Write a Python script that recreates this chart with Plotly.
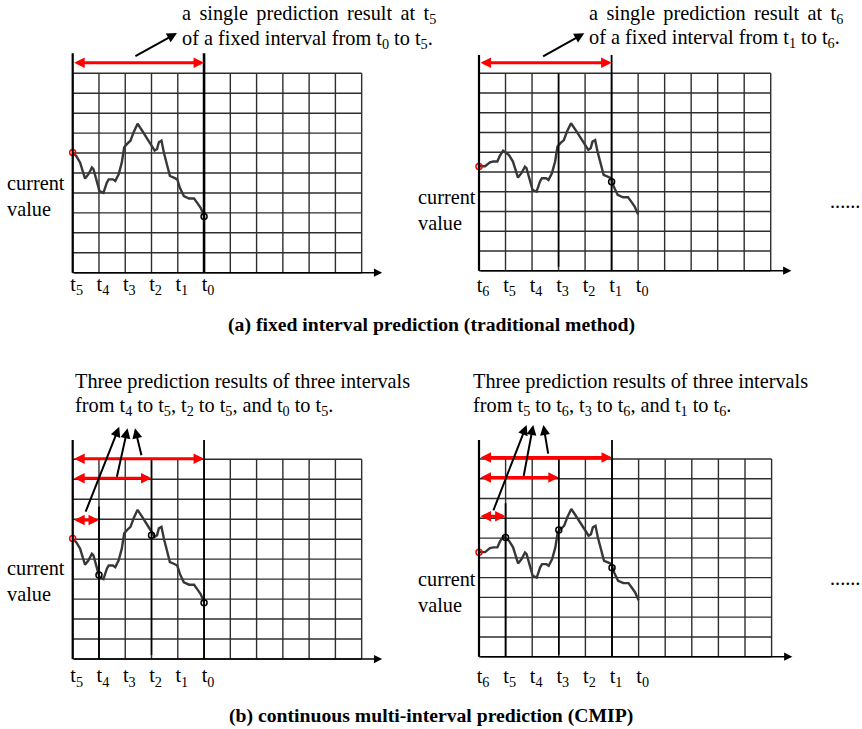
import plotly.graph_objects as go

W, H = 862, 729
SERIF = "Liberation Serif"
TXT = 20.3

# sampling instants, newest (t6) to oldest (t0)
STEP_LABELS = ["t<sub>6</sub>", "t<sub>5</sub>", "t<sub>4</sub>", "t<sub>3</sub>",
               "t<sub>2</sub>", "t<sub>1</sub>", "t<sub>0</sub>"]
STEP_VALUES = [5.28, 6.03, 4.20, 6.41, 6.20, 4.50, 2.82]

# the observed signal (t6 = 0 ... t0 = 6, value in grid rows)
SERIES_T = [0.00, 0.23, 0.41, 0.54, 0.69, 0.79, 0.91,
            1.00, 1.13, 1.28, 1.47, 1.60, 1.73, 1.79, 1.89,
            2.02, 2.17, 2.30, 2.37, 2.53, 2.62, 2.75, 2.87, 2.96,
            3.07, 3.20, 3.32, 3.47, 3.64, 3.77, 3.96,
            4.12, 4.21, 4.28, 4.38, 4.47, 4.60, 4.70, 4.85, 4.98,
            5.08, 5.23, 5.43, 5.62, 5.74, 5.87, 6.00]
SERIES_V = [5.29, 5.29, 5.49, 5.53, 5.53, 5.83, 6.08,
            6.00, 5.86, 5.53, 4.72, 4.94, 5.27, 5.19, 4.68,
            4.09, 4.00, 4.52, 4.68, 4.68, 4.60, 4.94, 5.53, 6.29,
            6.46, 6.62, 7.05, 7.47, 7.13, 6.88, 6.46,
            6.12, 6.20, 6.54, 6.62, 6.03, 5.27, 4.85, 4.77, 4.68,
            4.26, 3.84, 3.72, 3.72, 3.50, 3.25, 2.85]

A_LINE1 = ["a single prediction result at t<sub>5</sub>",
           "a single prediction result at t<sub>6</sub>"]
A_LINE2 = ["of a fixed interval from t<sub>0</sub> to t<sub>5</sub>.",
           "of a fixed interval from t<sub>1</sub> to t<sub>6</sub>."]
B_LINE1 = "Three prediction results of three intervals"
B_LINE2 = ["from t<sub>4</sub> to t<sub>5</sub>, t<sub>2</sub> to t<sub>5</sub>, and t<sub>0</sub> to t<sub>5</sub>.",
           "from t<sub>5</sub> to t<sub>6</sub>, t<sub>3</sub> to t<sub>6</sub>, and t<sub>1</sub> to t<sub>6</sub>."]
CAPTION_A = "<b>(a) fixed interval prediction (traditional method)</b>"
CAPTION_B = "<b>(b) continuous multi-interval prediction (CMIP)</b>"
CURRENT = "current<br>value"

GRID_COLS, GRID_ROWS = 11, 10
X_RANGE = [-0.15, 11.85]
Y_RANGE = [-0.15, 11.15]

SP = " \u2006"  # widened word gap for the justified first line


def justify(s):
    return s.replace(" ", SP)


PANELS = [
    dict(first=1, box=(72.7, 26.27, 272.7, 19.94),
         rules=[(0, 0, 11.0, 2.2), (5, 0, 11.0, 2.6)],
         spans=[(5, 10.53)], circles=[5],
         pointers=[((2.33, 10.82), (3.97, 12.02))],
         text=[(justify(A_LINE1[0]), 4.08, 12.97), (A_LINE2[0], 4.08, 11.72)],
         cv_text=(-2.58, 3.87), dots=None, standoff=-6),
    dict(first=0, box=(479.0, 26.52, 270.7, 19.74),
         rules=[(0, 0, 10.93, 2.2), (5, 0, 10.93, 1.8), (3, 0.2, 10, 1.6)],
         spans=[(5, 10.54)], circles=[5],
         pointers=[((2.36, 10.81), (3.97, 12.03))],
         text=[(justify(A_LINE1[1]), 4.06, 13.0), (A_LINE2[1], 4.06, 11.74)],
         cv_text=(-2.38, 3.08), dots=(13.16, 3.53), standoff=-3),
    dict(first=1, box=(72.7, 26.27, 659.0, 19.97),
         rules=[(0, 0, 10.97, 2.2), (1, 0, 7.63, 1.8), (3, 0.2, 10, 1.6), (5, 0, 10.97, 1.8)],
         spans=[(1, 6.96), (3, 9.05), (5, 10.03)], circles=[1, 3, 5],
         pointers=[((0.47, 7.3), (1.77, 11.63)), ((1.67, 9.05), (2.09, 11.55)),
                   ((2.63, 10.13), (2.37, 11.55))],
         text=[(B_LINE1, 0.02, 13.89), (B_LINE2[0], 0.02, 12.63)],
         cv_text=(-2.58, 3.89), dots=None, standoff=-1),
    dict(first=0, box=(479.0, 26.6, 656.7, 19.77),
         rules=[(0, 0, 10.96, 2.2), (1, 0, 7.76, 1.8), (3, 0.1, 10, 1.6), (5, 0, 10.96, 1.8)],
         spans=[(1, 7.1), (3, 9.07), (5, 10.07)], circles=[1, 3, 5],
         pointers=[((0.52, 7.33), (1.79, 11.72)), ((1.67, 9.07), (2.04, 11.72)),
                   ((2.61, 10.2), (2.42, 11.72))],
         text=[(B_LINE1, -0.3, 13.91), (B_LINE2[1], -0.3, 12.64)],
         cv_text=(-2.37, 3.26), dots=(13.12, 3.97), standoff=2),
]


def to_paper(box, col, row):
    """Grid coordinates of a panel -> paper fractions (for text outside the grid)."""
    gl, cw, gb, rh = box
    return (gl + col * cw) / W, 1 - (gb - row * rh) / H


fig = go.Figure()
annotations = []
shapes = []
layout_axes = {}

for i, p in enumerate(PANELS):
    n = "" if i == 0 else str(i + 1)
    xa, ya = "x" + n, "y" + n
    box = p["box"]
    gl, cw, gb, rh = box
    dom_x = [(gl + X_RANGE[0] * cw) / W, (gl + X_RANGE[1] * cw) / W]
    dom_y = [1 - (gb - Y_RANGE[0] * rh) / H, 1 - (gb - Y_RANGE[1] * rh) / H]

    labels = STEP_LABELS[p["first"]:]
    layout_axes["xaxis" + n] = dict(
        domain=dom_x, range=X_RANGE, anchor=ya, showgrid=False, zeroline=False,
        showline=False, ticks="", tickvals=list(range(len(labels))), ticktext=labels,
        tickfont=dict(family=SERIF, size=TXT, color="black"),
        ticklabelstandoff=p["standoff"], ticklabelshift=4, fixedrange=True)
    layout_axes["yaxis" + n] = dict(
        domain=dom_y, range=Y_RANGE, anchor=xa, showgrid=False, zeroline=False,
        showline=False, showticklabels=False, ticks="", fixedrange=True)

    # grid
    gx, gy = [], []
    for c in range(GRID_COLS + 1):
        gx += [c, c, None]
        gy += [0, GRID_ROWS, None]
    for r in range(GRID_ROWS + 1):
        gx += [0, GRID_COLS, None]
        gy += [r, r, None]
    fig.add_trace(go.Scatter(x=gx, y=gy, mode="lines", xaxis=xa, yaxis=ya,
                             line=dict(color="#2e2e2e", width=1.4),
                             hoverinfo="skip", showlegend=False))

    # observed signal
    sx = [t - p["first"] for t in SERIES_T if t >= p["first"]]
    sy = [v for t, v in zip(SERIES_T, SERIES_V) if t >= p["first"]]
    fig.add_trace(go.Scatter(x=sx, y=sy, mode="lines", xaxis=xa, yaxis=ya,
                             line=dict(color="#383838", width=2.4),
                             hoverinfo="skip", showlegend=False))

    # marker lines at the prediction targets
    for col, y0, y1, w in p["rules"]:
        shapes.append(dict(type="line", xref=xa, yref=ya, x0=col, x1=col, y0=y0, y1=y1,
                           line=dict(color="black", width=w), layer="above"))

    # current value and predicted points
    cv = STEP_VALUES[p["first"]]
    fig.add_trace(go.Scatter(x=p["circles"],
                             y=[STEP_VALUES[p["first"] + c] for c in p["circles"]],
                             mode="markers", xaxis=xa, yaxis=ya, cliponaxis=False,
                             marker=dict(symbol="circle-open", size=6, color="black",
                                         line=dict(width=1.5)),
                             hoverinfo="skip", showlegend=False))
    fig.add_trace(go.Scatter(x=[0], y=[cv], mode="markers", xaxis=xa, yaxis=ya,
                             cliponaxis=False,
                             marker=dict(symbol="circle-open", size=6, color="red",
                                         line=dict(width=1.5)),
                             hoverinfo="skip", showlegend=False))

    # time axis arrow
    annotations.append(dict(x=11.78, y=0, ax=0, ay=0, xref=xa, yref=ya, axref=xa, ayref=ya,
                            text="", showarrow=True, arrowhead=2, arrowsize=1.1,
                            arrowwidth=1.5, arrowcolor="black"))
    # prediction intervals
    for col, row in p["spans"]:
        annotations.append(dict(x=col, y=row, ax=0, ay=row, xref=xa, yref=ya,
                                axref=xa, ayref=ya, text="", showarrow=True,
                                arrowhead=2, startarrowhead=2, arrowside="end+start",
                                arrowsize=0.7, startarrowsize=0.7,
                                arrowwidth=3, arrowcolor="red"))
    # pointers to the explanatory text
    for (x0, y0), (x1, y1) in p["pointers"]:
        annotations.append(dict(x=x1, y=y1, ax=x0, ay=y0, xref=xa, yref=ya,
                                axref=xa, ayref=ya, text="", showarrow=True,
                                arrowhead=2, arrowsize=1.0, arrowwidth=2,
                                arrowcolor="black"))
    # current value pointer
    annotations.append(dict(x=-0.18, y=cv - 0.18, ax=-1.15, ay=cv - 0.97, xref=xa, yref=ya,
                            axref=xa, ayref=ya, text="", showarrow=True, arrowhead=2,
                            arrowsize=1.0, arrowwidth=2, arrowcolor="black"))

    for txt, x, y in p["text"]:
        px, py = to_paper(box, x, y)
        annotations.append(dict(x=px, y=py, xref="paper", yref="paper", text=txt,
                                showarrow=False, xanchor="left", yanchor="middle",
                                font=dict(family=SERIF, size=TXT, color="black")))
    px, py = to_paper(box, *p["cv_text"])
    annotations.append(dict(x=px, y=py, xref="paper", yref="paper", text=CURRENT,
                            showarrow=False, xanchor="left", yanchor="middle", align="left",
                            font=dict(family=SERIF, size=TXT, color="black")))
    if p["dots"]:
        px, py = to_paper(box, *p["dots"])
        annotations.append(dict(x=px, y=py, xref="paper", yref="paper", text="......",
                                showarrow=False, xanchor="left", yanchor="middle",
                                font=dict(family=SERIF, size=TXT, color="black")))

for cap, yp in [(CAPTION_A, 1 - 325 / H), (CAPTION_B, 1 - 715 / H)]:
    annotations.append(dict(x=0.5, y=yp, xref="paper", yref="paper", text=cap,
                            showarrow=False, xanchor="center", yanchor="middle",
                            font=dict(family=SERIF, size=19.7, color="black")))

fig.update_layout(width=W, height=H, autosize=False,
                  margin=dict(l=0, r=0, t=0, b=0),
                  paper_bgcolor="white", plot_bgcolor="white",
                  font=dict(family=SERIF),
                  annotations=annotations, shapes=shapes, showlegend=False,
                  **layout_axes)

fig.write_html("out.html", config={"displayModeBar": False})
